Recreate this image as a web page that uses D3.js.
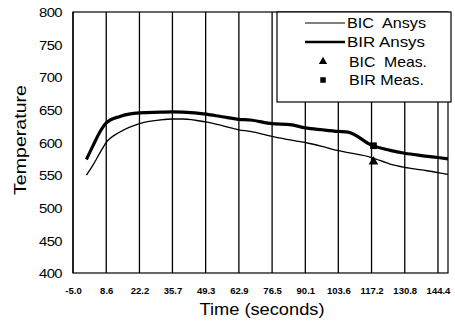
<!DOCTYPE html>
<html><head><meta charset="utf-8">
<script src="https://cdn.jsdelivr.net/npm/d3@7/dist/d3.min.js"></script>
<style>
html,body{margin:0;padding:0;background:#fff;}
svg{display:block;font-family:"Liberation Sans",Arial,sans-serif;}
</style></head>
<body><svg id="c" width="455" height="325"></svg>
<script>
const xTickValues = [-5.0, 8.6, 22.2, 35.7, 49.3, 62.9, 76.5, 90.1, 103.6, 117.2, 130.8, 144.4];
const yTickValues = [400, 450, 500, 550, 600, 650, 700, 750, 800];
const time = [0.5, 3.3, 6.0, 8.6, 14.2, 22.2, 30.6, 35.7, 40, 49.3, 56, 62.9, 67.5, 76.5, 83.8, 90.1, 97, 103.6, 107.6, 117.2, 124.8, 130.8, 137.6, 144.4, 148.5];
const bicAnsys = [550, 566, 584, 600, 616, 629, 634.5, 636, 636, 631.5, 626, 619.5, 617, 609.5, 604, 600, 594, 587.5, 584.5, 577, 567, 562, 558, 554, 551];
const birAnsys = [574, 596, 616, 630, 640, 645.5, 646.5, 647, 646.5, 643.5, 639.5, 635.5, 634.5, 629, 627.5, 622.5, 619.5, 617, 616, 596, 588, 583.5, 580, 577, 575];
const measTime = [118];
const bicMeas = [570.5];
const birMeas = [595];
const legendLabels = ["BIC  Ansys", "BIR Ansys", "BIC  Meas.", "BIR Meas."];

const svg = d3.select("#c");
const L = 73, R = 448, T = 12, B = 273;
const x = d3.scaleLinear().domain([-5, 148.5]).range([L, R]);
const y = d3.scaleLinear().domain([400, 800]).range([B, T]);

// vertical grid lines
svg.append("g").selectAll("line").data(xTickValues).join("line")
  .attr("x1", d => x(d)).attr("x2", d => x(d)).attr("y1", T).attr("y2", B)
  .attr("stroke", "#000").attr("stroke-width", 1.3);
// frame
svg.append("rect").attr("x", L).attr("y", T).attr("width", R - L).attr("height", B - T)
  .attr("fill", "none").attr("stroke", "#000").attr("stroke-width", 1.2);

// axes labels
const xAxis = d3.axisBottom(x).tickValues(xTickValues).tickSize(0).tickPadding(0)
  .tickFormat(d => d.toFixed(1));
const gx = svg.append("g").attr("transform", `translate(0,${B})`).call(xAxis);
gx.select(".domain").remove();
gx.selectAll("text").attr("y", 21).attr("dy", 0).attr("font-size", 9.5).attr("font-weight", "bold")
  .attr("font-family", "'Liberation Sans',Arial,sans-serif").attr("fill", "#000");

const yAxis = d3.axisLeft(y).tickValues(yTickValues).tickSize(0).tickPadding(11);
const gy = svg.append("g").attr("transform", `translate(${L},0)`).call(yAxis);
gy.select(".domain").remove();
gy.selectAll("text").attr("font-size", 13).attr("dy", "0.36em")
  .attr("font-family", "'Liberation Sans',Arial,sans-serif").attr("fill", "#000")
  .attr("textLength", 23).attr("lengthAdjust", "spacingAndGlyphs").attr("letter-spacing", -0.5);

// axis titles
svg.append("text").attr("x", 262).attr("y", 315).attr("text-anchor", "middle")
  .attr("font-size", 17).attr("textLength", 125).attr("lengthAdjust", "spacingAndGlyphs")
  .text("Time (seconds)");
svg.append("text").attr("transform", "translate(26,140) rotate(-90)").attr("text-anchor", "middle")
  .attr("font-size", 17).attr("textLength", 110).attr("lengthAdjust", "spacingAndGlyphs")
  .text("Temperature");

// lines
const line = d3.line().x((d, i) => x(time[i])).y(d => y(d)).curve(d3.curveMonotoneX);
svg.append("path").attr("d", line(bicAnsys)).attr("fill", "none").attr("stroke", "#000").attr("stroke-width", 1.3);
svg.append("path").attr("d", line(birAnsys)).attr("fill", "none").attr("stroke", "#000").attr("stroke-width", 3.2);

// measurements
const tri = d3.symbol().type(d3.symbolTriangle).size(40);
const sq = d3.symbol().type(d3.symbolSquare).size(45);
svg.append("g").selectAll("path").data(bicMeas).join("path")
  .attr("transform", (d, i) => `translate(${x(measTime[i])},${y(d)})`).attr("d", tri()).attr("fill", "#000");
svg.append("g").selectAll("path").data(birMeas).join("path")
  .attr("transform", (d, i) => `translate(${x(measTime[i])},${y(d)})`).attr("d", sq()).attr("fill", "#000");

// legend
const lg = svg.append("g");
lg.append("rect").attr("x", 277).attr("y", 12).attr("width", 174).attr("height", 90)
  .attr("fill", "#fff").attr("stroke", "#000").attr("stroke-width", 1.2);
const rowsY = [23, 42, 61.5, 80];
const textW = [79, 78, 78, 75];
lg.append("line").attr("x1", 305).attr("x2", 345).attr("y1", rowsY[0]).attr("y2", rowsY[0]).attr("stroke", "#000").attr("stroke-width", 1.2);
lg.append("line").attr("x1", 305).attr("x2", 345).attr("y1", rowsY[1]).attr("y2", rowsY[1]).attr("stroke", "#000").attr("stroke-width", 2.6);
lg.append("path").attr("transform", `translate(323,${rowsY[2]})`).attr("d", d3.symbol().type(d3.symbolTriangle).size(30)()).attr("fill", "#000");
lg.append("path").attr("transform", `translate(323,${rowsY[3]})`).attr("d", d3.symbol().type(d3.symbolSquare).size(30)()).attr("fill", "#000");
lg.selectAll("text").data(legendLabels).join("text")
  .attr("x", (d, i) => i < 2 ? 347 : 349).attr("y", (d, i) => rowsY[i]).attr("dy", "0.36em")
  .attr("font-size", 14.5).attr("xml:space", "preserve").style("white-space", "pre")
  .attr("textLength", (d, i) => textW[i]).attr("lengthAdjust", "spacingAndGlyphs")
  .text(d => d);
</script></body></html>
